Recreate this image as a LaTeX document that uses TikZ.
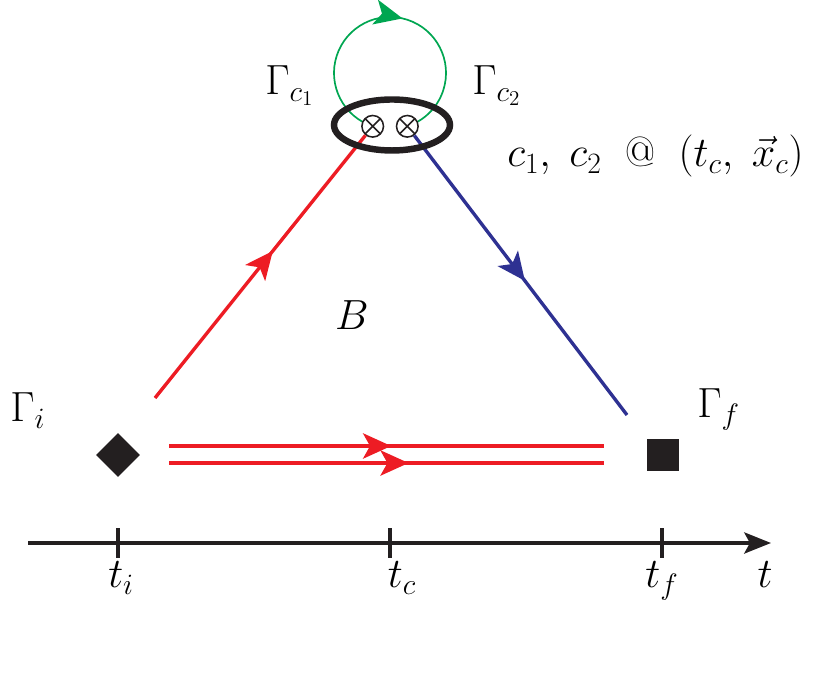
\RequirePackage{fix-cm}
\documentclass[tikz,border=0pt]{standalone}
\usepackage{amsmath}
\usetikzlibrary{arrows.meta, decorations.markings, shapes.geometric}
\definecolor{lred}{RGB}{237,28,36}
\definecolor{lblue}{RGB}{46,49,146}
\definecolor{lgreen}{RGB}{0,166,81}
\definecolor{lblack}{RGB}{35,31,32}
\tikzset{
  bigtip/.tip={Stealth[length=20pt, width=18pt, inset=5pt]},
  midarrow/.style={postaction={decorate, decoration={markings, mark=at position #1 with {\arrow{bigtip}}}}},
  lab/.style={anchor=base west, inner sep=0pt},
  vtx/.style={circle, draw=lblack, line width=1.1pt, fill=white, inner sep=0pt, minimum size=0.54cm,
    path picture={\draw[lblack, line width=1.1pt](path picture bounding box.north west)--(path picture bounding box.south east)
      (path picture bounding box.south west)--(path picture bounding box.north east);}},
}
\begin{document}
\begin{tikzpicture}[x=0.025cm, y=0.025cm, >={Stealth[length=19pt, width=15pt, inset=4pt]}, font=\fontsize{30}{36}\selectfont]
 \useasboundingbox (0,0) rectangle (830,689);
 % time axis
 \draw[->, line width=2.6pt, lblack](28,146)--(771,146);
 \foreach \x in {118,390,662}
 {
     \draw[line width=2.4pt, lblack](\x,131)--(\x,161);
 }
 \node[anchor=base] (ti) at (121,101) {$t_i$};
 \node[anchor=base] (tc) at (402,101) {$t_c$};
 \node[anchor=base] (tf) at (662,101) {$t_f$};
 \node[anchor=base] (t) at (765,101) {$t$};
 % source and sink
 \node[diamond, fill=lblack, inner sep=0pt, minimum size=1.1cm] (Gi) at (118,234) {};
 \node[rectangle, fill=lblack, inner sep=0pt, minimum size=0.82cm] (Gf) at (663,234) {};
 \draw[lred, line width=2.4pt, midarrow=0.51]([shift={(29,9)}]Gi.east)--([shift={(-42,9)}]Gf.west);
 \draw[lred, line width=2.4pt, midarrow=0.55]([shift={(29,-8)}]Gi.east)--([shift={(-42,-8)}]Gf.west);
 % current loop
 \coordinate (loop) at (390,616);
 \draw[lgreen, line width=1.2pt, midarrow=0.54](loop)++(252:56) arc[start angle=252, end angle=-72, radius=56];
 \node[vtx] (v1) at (372.7,562.7) {};
 \node[vtx] (v2) at (407.3,562.7) {};
 \coordinate (ri) at (155,291);
 \coordinate (bf) at (627,274);
 \draw[lred, line width=2.4pt, midarrow=0.56](ri)--(v1);
 \draw[lblue, line width=2.4pt, midarrow=0.52](v2)--(bf);
 \draw[line width=4.6pt, lblack](392,564) ellipse [x radius=58, y radius=25.5];
 % labels
 \node[lab] (Gc1) at (265,594) {$\Gamma_{c_1}$};
 \node[lab] (Gc2) at (472,594) {$\Gamma_{c_2}$};
 \node[lab] (pos) at (507,522) {$c_1,\; c_2\;\; @\;\; (t_c,\; \vec{x}_c)$};
 \node[anchor=base] (B) at (352,359) {$B$};
 \node[lab] (Gil) at (10,267) {$\Gamma_i$};
 \node[lab] (Gfl) at (697,271) {$\Gamma_f$};
\end{tikzpicture}
\end{document}
